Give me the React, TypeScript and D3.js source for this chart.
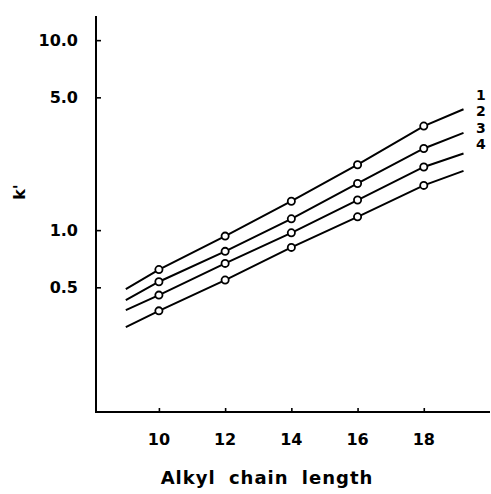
import React, { useEffect, useRef } from 'react';
import * as d3 from 'd3';

// chain lengths where k' was measured
const chainLengths = [10, 12, 14, 16, 18];

// k' values for each curve
const series1 = [0.62, 0.93, 1.42, 2.21, 3.53];
const series2 = [0.535, 0.773, 1.147, 1.76, 2.69];
const series3 = [0.455, 0.668, 0.968, 1.44, 2.15];
const series4 = [0.376, 0.546, 0.811, 1.175, 1.72];

// the drawn lines run a bit past the first and last points
const lineStartX = 9.0;
const lineEndX = 19.2;
const lineStartY = [0.489, 0.428, 0.379, 0.309];
const lineEndY = [4.33, 3.25, 2.53, 2.05];

const curveLabels = ['1', '2', '3', '4'];
const xTicks = [10, 12, 14, 16, 18];
const yTicks = [0.5, 1.0, 5.0, 10.0];

const App = () => {
  const svgRef = useRef<SVGSVGElement>(null);

  useEffect(() => {
    const svg = d3.select(svgRef.current);
    svg.selectAll('*').remove();

    const x = d3.scaleLinear().domain([8.1, 20]).range([96, 490]);
    const y = d3.scaleLog().domain([0.109, 13.4]).range([413, 16]);

    const font = '"DejaVu Sans", sans-serif';

    // axes
    const yAxis = d3.axisRight(y).tickValues(yTicks).tickSize(5).tickSizeOuter(0).tickFormat(() => '');
    const gy = svg.append('g').attr('transform', 'translate(96,0)').call(yAxis);
    gy.select('.domain').attr('stroke-width', 2).attr('d', `M0,${y.range()[1]}V${y.range()[0]}`);
    gy.selectAll('.tick line').attr('stroke-width', 1.6);

    const xAxis = d3.axisTop(x).tickValues(xTicks).tickSize(4).tickSizeOuter(0).tickFormat(() => '');
    const gx = svg.append('g').attr('transform', 'translate(0,412)').call(xAxis);
    gx.select('.domain').attr('stroke-width', 2).attr('d', `M${x.range()[0]},0H${x.range()[1]}`);
    gx.selectAll('.tick line').attr('stroke-width', 1.6);

    // tick labels
    svg.append('g')
      .selectAll('text')
      .data(yTicks)
      .enter()
      .append('text')
      .attr('x', 78)
      .attr('y', d => y(d))
      .attr('dy', '0.35em')
      .attr('text-anchor', 'end')
      .attr('font-family', font)
      .attr('font-weight', 'bold')
      .attr('font-size', 16)
      .text(d => d.toFixed(1));

    svg.append('g')
      .selectAll('text')
      .data(xTicks)
      .enter()
      .append('text')
      .attr('x', d => x(d))
      .attr('y', 439)
      .attr('dy', '0.35em')
      .attr('text-anchor', 'middle')
      .attr('font-family', font)
      .attr('font-weight', 'bold')
      .attr('font-size', 16)
      .text(d => String(d));

    svg.append('text')
      .attr('x', 267)
      .attr('y', 478)
      .attr('dy', '0.35em')
      .attr('text-anchor', 'middle')
      .attr('font-family', font)
      .attr('font-weight', 'bold')
      .attr('font-size', 18)
      .attr('letter-spacing', 1)
      .attr('word-spacing', 6)
      .text('Alkyl chain length');

    svg.append('text')
      .attr('transform', 'translate(19,192) rotate(-90)')
      .attr('text-anchor', 'middle')
      .attr('dy', '0.35em')
      .attr('font-family', font)
      .attr('font-weight', 'bold')
      .attr('font-size', 16)
      .text("k'");

    // curves
    const allSeries = [series1, series2, series3, series4];
    const line = d3.line<[number, number]>().x(d => x(d[0])).y(d => y(d[1]));

    allSeries.forEach((vals, i) => {
      const pts: [number, number][] = [
        [lineStartX, lineStartY[i]],
        ...chainLengths.map((c, j) => [c, vals[j]] as [number, number]),
        [lineEndX, lineEndY[i]],
      ];
      svg.append('path')
        .attr('d', line(pts))
        .attr('fill', 'none')
        .attr('stroke', '#000')
        .attr('stroke-width', 2);

      svg.append('g')
        .selectAll('circle')
        .data(vals)
        .enter()
        .append('circle')
        .attr('cx', (d, j) => x(chainLengths[j]))
        .attr('cy', d => y(d))
        .attr('r', 3.6)
        .attr('fill', '#fff')
        .attr('stroke', '#000')
        .attr('stroke-width', 1.8);
    });

    // curve numbers, stacked at the right
    svg.append('g')
      .selectAll('text')
      .data(curveLabels)
      .enter()
      .append('text')
      .attr('x', 476)
      .attr('y', (d, i) => 95 + i * 16.5)
      .attr('dy', '0.35em')
      .attr('font-family', font)
      .attr('font-weight', 'bold')
      .attr('font-size', 14)
      .text(d => d);
  }, []);

  return (
    <svg
      ref={svgRef}
      width={491}
      height={494}
      style={{ position: 'absolute', left: 0, top: 0, background: '#fff' }}
    />
  );
};

export default App;
